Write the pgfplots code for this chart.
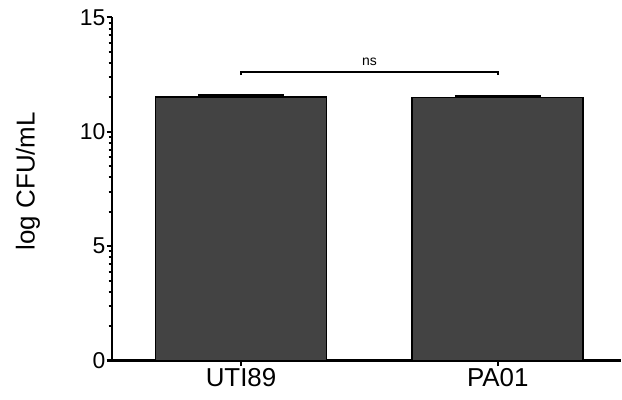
\documentclass[border=0pt]{standalone}
\usepackage{fontspec}
\setmainfont{Liberation Sans}
\usepackage{pgfplots}
\pgfplotsset{compat=1.18}
\definecolor{barfill}{RGB}{67,67,67}
\begin{document}
\begin{tikzpicture}
\begin{axis}[
  at={(112bp,39.5bp)}, anchor=south west,
  scale only axis, width=509bp, height=343bp,
  xmin=-0.5026, xmax=1.48, ymin=0, ymax=15,
  axis x line*=bottom, axis y line*=left,
  axis line style={line width=2.2bp, black},
  clip=false,
  xtick={0,1}, xticklabels={UTI89,PA01},
  ytick={0,5,10,15},
  minor ytick={1.505,2.386,3.010,3.495,3.891,4.225,4.515,4.771,
               6.505,7.386,8.010,8.495,8.891,9.225,9.515,9.771,
               11.505,12.386,13.010,13.495,13.891,14.225,14.515,14.771},
  tick align=outside,
  major tick length=5.5bp, minor tick length=3.5bp,
  every tick/.style={line width=2bp, black},
  minor tick style={line width=2bp},
  /pgf/number format/assume math mode=true,
  yticklabel style={font=\fontsize{23}{26}\selectfont, inner sep=1bp},
  xticklabel style={font=\fontsize{26}{30}\selectfont, inner sep=2bp},
  ylabel={log CFU/mL},
  ylabel style={font=\fontsize{26}{30}\selectfont, at={(axis description cs:-0.165,0.523)}, anchor=center, rotate=0},
]
\addplot[ybar, bar width=0.666, fill=barfill, draw=black, line width=1.8bp,
  error bars/.cd, y dir=plus, y explicit,
  error bar style={line width=2bp, black},
  error mark options={rotate=90, mark size=43bp, line width=2bp, black}]
  coordinates {(0,11.53) +- (0,0.06) (1,11.50) +- (0,0.05)};
\draw[line width=1.8bp] (axis cs:0,12.48) -- (axis cs:0,12.63) -- (axis cs:1,12.63) -- (axis cs:1,12.48);
\node[font=\fontsize{14}{16}\selectfont, anchor=base, inner sep=0pt] at (axis cs:0.5,12.92) {ns};
\end{axis}
\pgfresetboundingbox
\path[use as bounding box] (0,0) rectangle (622bp,400bp);
\end{tikzpicture}
\end{document}
